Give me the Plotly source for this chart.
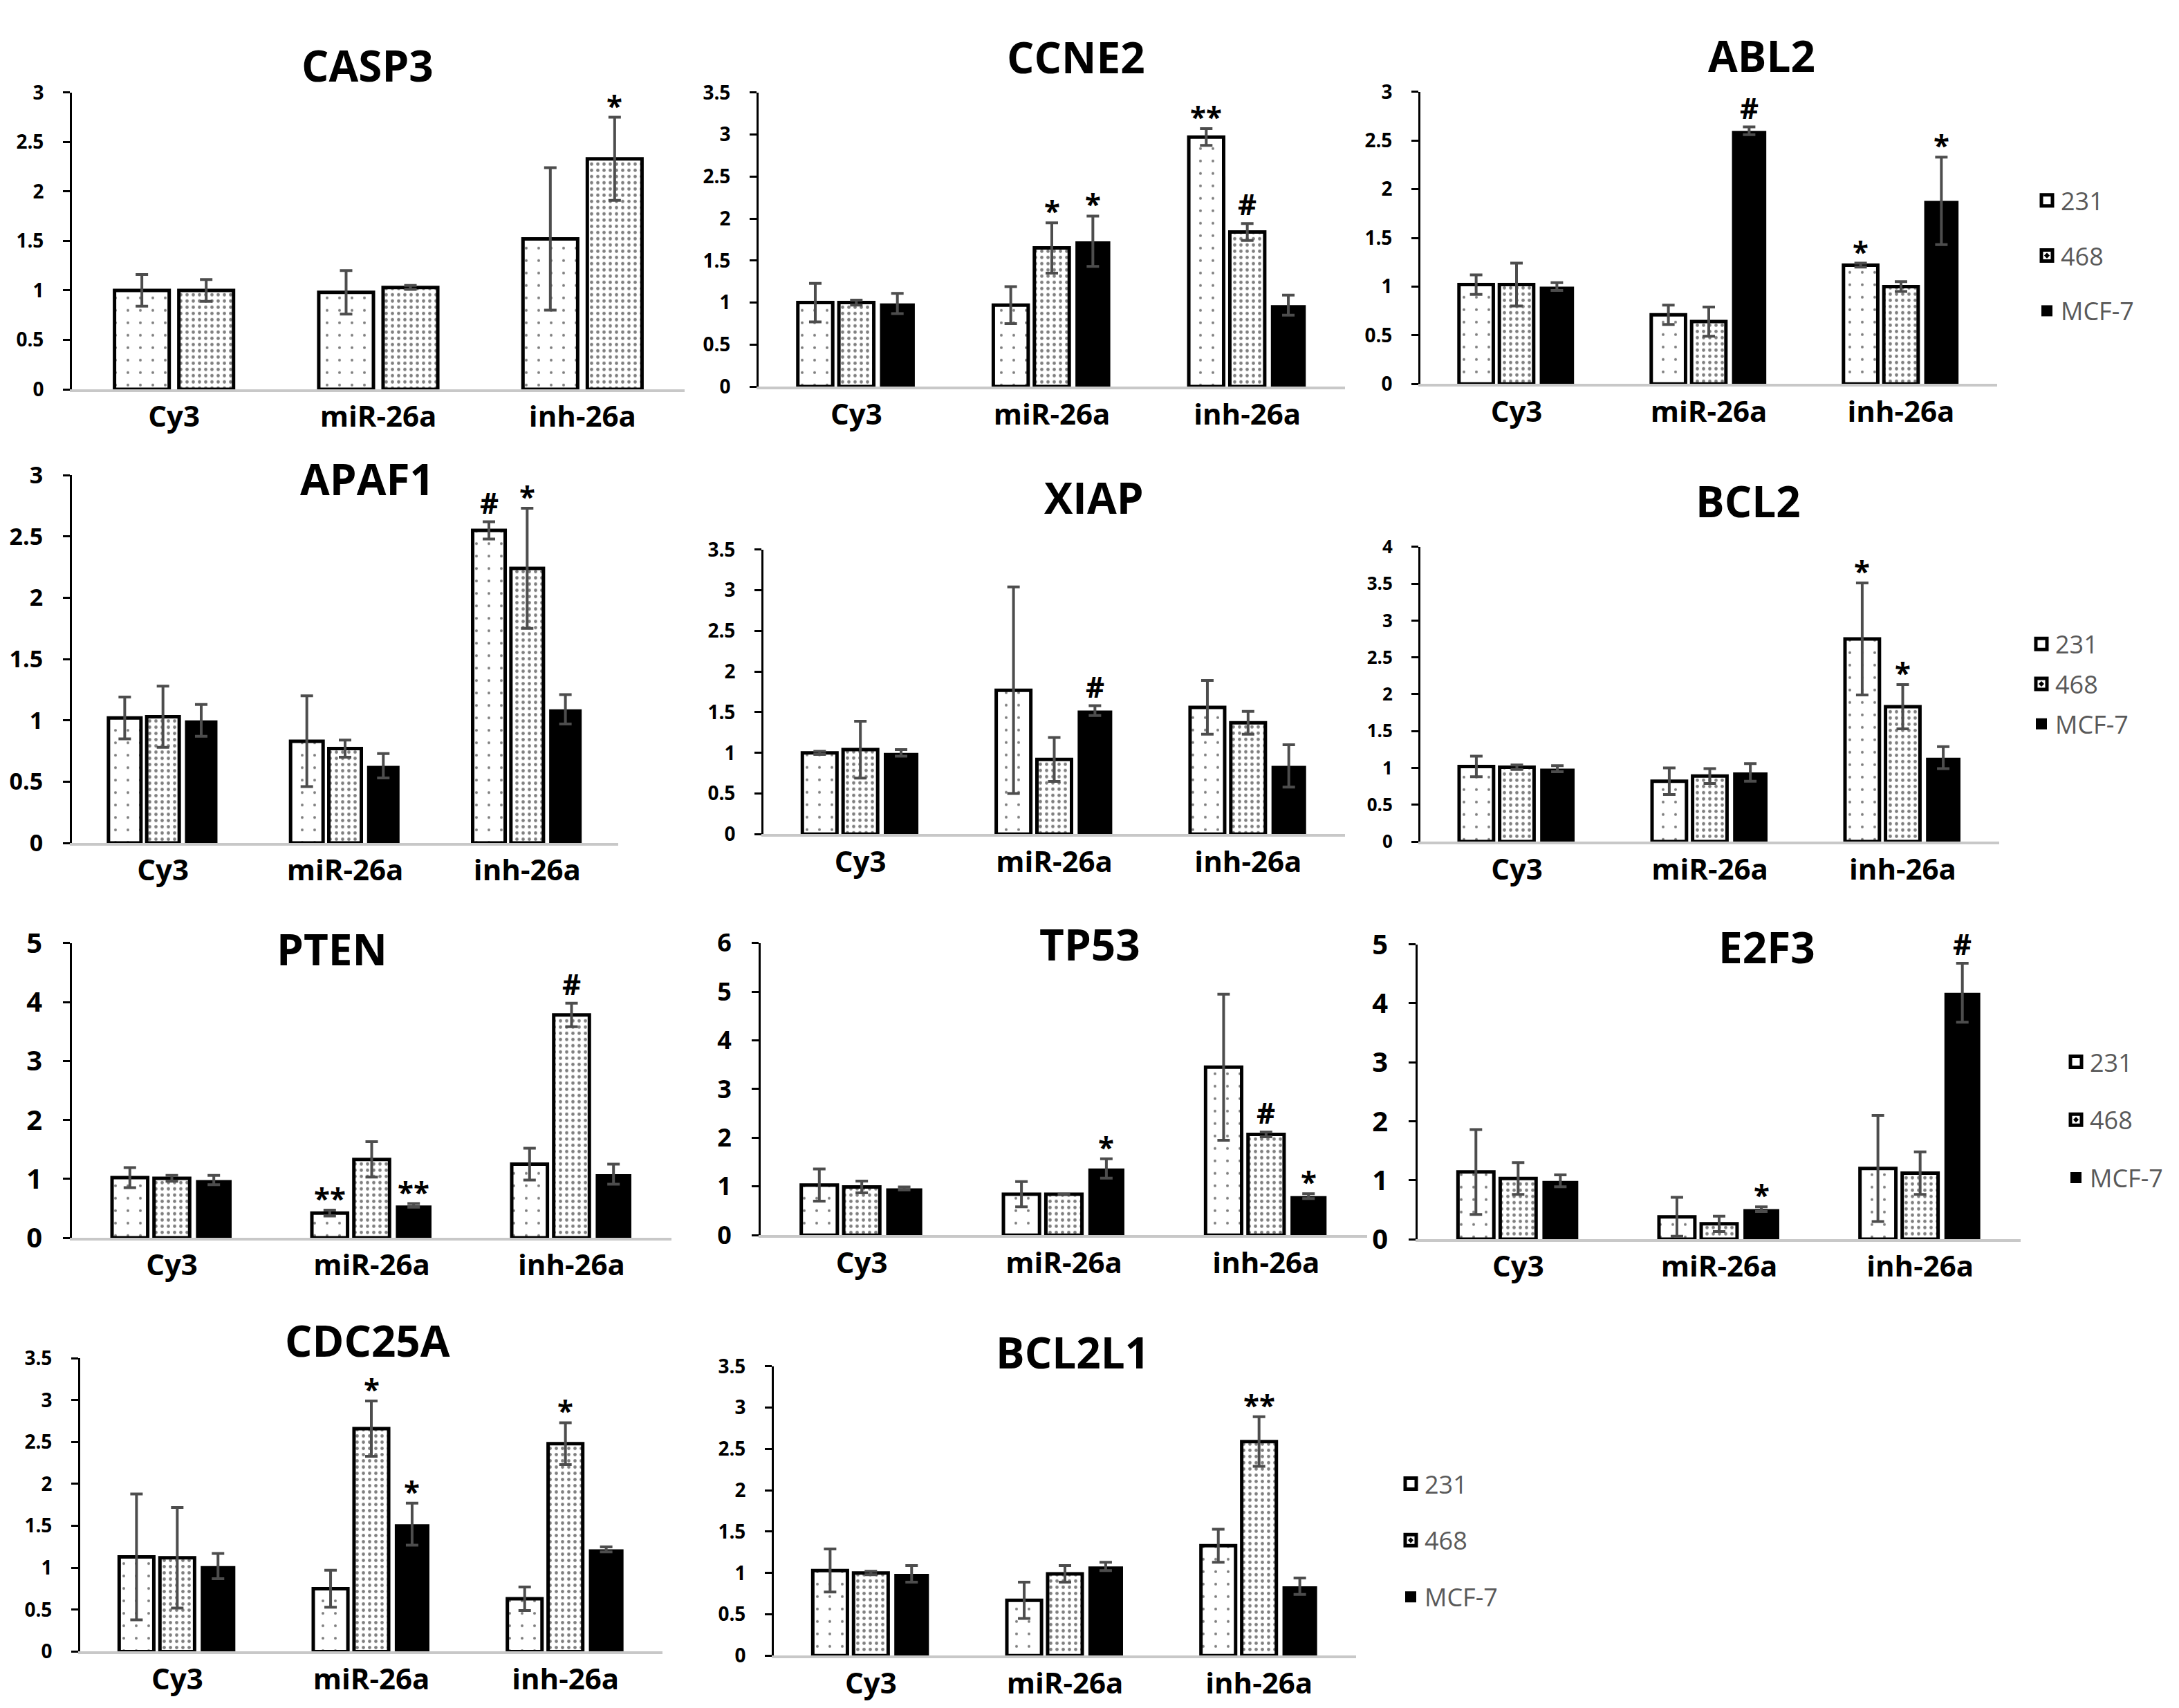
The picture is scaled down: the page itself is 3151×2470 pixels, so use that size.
import plotly.graph_objects as go

# Data (relative expression)
genes = ['CASP3', 'CCNE2', 'ABL2', 'APAF1', 'XIAP', 'BCL2',
         'PTEN', 'TP53', 'E2F3', 'CDC25A', 'BCL2L1']
categories = ['Cy3', 'miR-26a', 'inh-26a']
series = ['231', '468', 'MCF-7']

mean_231 = [[1.00, 0.98, 1.52], [1.00, 0.97, 2.97], [1.02, 0.71, 1.22],
            [1.02, 0.83, 2.55], [1.00, 1.77, 1.56], [1.02, 0.82, 2.75],
            [1.02, 0.42, 1.25], [1.03, 0.84, 3.45], [1.14, 0.38, 1.20],
            [1.13, 0.75, 0.63], [1.03, 0.67, 1.33]]
err_231 = [[0.16, 0.22, 0.72], [0.23, 0.22, 0.10], [0.10, 0.10, 0.02],
           [0.17, 0.37, 0.07], [0.02, 1.27, 0.33], [0.14, 0.18, 0.76],
           [0.17, 0.05, 0.27], [0.33, 0.26, 1.50], [0.72, 0.33, 0.90],
           [0.75, 0.22, 0.14], [0.26, 0.22, 0.20]]
mean_468 = [[1.00, 1.03, 2.33], [1.00, 1.65, 1.84], [1.02, 0.64, 1.00],
            [1.03, 0.77, 2.24], [1.04, 0.92, 1.37], [1.01, 0.89, 1.83],
            [1.01, 1.33, 3.78], [0.99, 0.84, 2.07], [1.03, 0.26, 1.12],
            [1.12, 2.66, 2.48], [1.00, 0.99, 2.59]]
err_468 = [[0.11, 0.02, 0.42], [0.03, 0.30, 0.10], [0.22, 0.15, 0.05],
           [0.25, 0.07, 0.49], [0.35, 0.27, 0.14], [0.03, 0.10, 0.30],
           [0.05, 0.30, 0.20], [0.12, 0.00, 0.05], [0.27, 0.13, 0.36],
           [0.60, 0.33, 0.25], [0.02, 0.10, 0.30]]
mean_mcf7 = [None, [0.99, 1.73, 0.97], [1.00, 2.60, 1.88],
             [1.00, 0.63, 1.09], [1.00, 1.52, 0.84], [0.99, 0.94, 1.14],
             [0.98, 0.55, 1.08], [0.96, 1.37, 0.80], [0.99, 0.51, 4.18],
             [1.02, 1.52, 1.22], [0.99, 1.08, 0.84]]
err_mcf7 = [None, [0.12, 0.30, 0.12], [0.04, 0.04, 0.45],
            [0.13, 0.10, 0.12], [0.04, 0.06, 0.26], [0.04, 0.12, 0.15],
            [0.08, 0.03, 0.17], [0.03, 0.20, 0.05], [0.10, 0.04, 0.50],
            [0.15, 0.25, 0.03], [0.10, 0.05, 0.10]]

y_max = [3, 3.5, 3, 3, 3.5, 4, 5, 6, 5, 3.5, 3.5]
y_step = [0.5, 0.5, 0.5, 0.5, 0.5, 0.5, 1, 1, 1, 0.5, 0.5]

# significance marks: (gene, category, series, symbol)
marks = [
    ('CASP3', 'inh-26a', '468', '*'),
    ('CCNE2', 'miR-26a', '468', '*'), ('CCNE2', 'miR-26a', 'MCF-7', '*'),
    ('CCNE2', 'inh-26a', '231', '**'), ('CCNE2', 'inh-26a', '468', '#'),
    ('ABL2', 'miR-26a', 'MCF-7', '#'), ('ABL2', 'inh-26a', '231', '*'),
    ('ABL2', 'inh-26a', 'MCF-7', '*'),
    ('APAF1', 'inh-26a', '231', '#'), ('APAF1', 'inh-26a', '468', '*'),
    ('XIAP', 'miR-26a', 'MCF-7', '#'),
    ('BCL2', 'inh-26a', '231', '*'), ('BCL2', 'inh-26a', '468', '*'),
    ('PTEN', 'miR-26a', '231', '**'), ('PTEN', 'miR-26a', 'MCF-7', '**'),
    ('PTEN', 'inh-26a', '468', '#'),
    ('TP53', 'miR-26a', 'MCF-7', '*'), ('TP53', 'inh-26a', '468', '#'),
    ('TP53', 'inh-26a', 'MCF-7', '*'),
    ('E2F3', 'miR-26a', 'MCF-7', '*'), ('E2F3', 'inh-26a', 'MCF-7', '#'),
    ('CDC25A', 'miR-26a', '468', '*'), ('CDC25A', 'miR-26a', 'MCF-7', '*'),
    ('CDC25A', 'inh-26a', '468', '*'),
    ('BCL2L1', 'inh-26a', '468', '**'),
]

# ---- layout geometry (pixels in a 3151 x 2470 page) ----
W, H = 3151, 2470
BARGAP = 0.37
# x0, x1, y_top, y_zero
panels = [
    (96, 982, 99, 538), (1089, 1937, 99, 534), (2046, 2880, 98, 530),
    (96, 886, 665, 1209), (1096, 1937, 775, 1196), (2046, 2883, 771, 1207),
    (96, 963, 1357, 1793), (1092, 1969, 1357, 1789), (2042, 2914, 1359, 1795),
    (108, 950, 1971, 2405), (1111, 1953, 1983, 2411),
]
title_pos = [(523, 58), (1548, 46), (2539, 44), (523, 670), (1574, 698),
             (2520, 703), (472, 1365), (1568, 1358), (2547, 1362),
             (523, 1944), (1543, 1962)]
tick_size = [28, 28, 28, 34, 28, 26, 40, 36, 40, 28, 28]
legend_of = {'ABL2': ('legend', 2932, 228, 30),
             'BCL2': ('legend2', 2924, 884, 8),
             'E2F3': ('legend3', 2974, 1502, 34),
             'BCL2L1': ('legend4', 2012, 2126, 32)}

FONT = 'Open Sans'
bar_styles = {
    '231': dict(color='white', line=dict(color='black', width=5),
                pattern=dict(shape='.', fgcolor='black', bgcolor='white',
                             size=18, solidity=0.04)),
    '468': dict(color='white', line=dict(color='black', width=5),
                pattern=dict(shape='.', fgcolor='black', bgcolor='white',
                             size=9, solidity=0.22)),
    'MCF-7': dict(color='black', line=dict(color='black', width=0)),
}
legend_symbols = {
    '231': dict(symbol='square-open', size=30, color='black',
                line=dict(width=5, color='black')),
    '468': dict(symbol='square-open-dot', size=30, color='black',
                line=dict(width=5, color='black')),
    'MCF-7': dict(symbol='square', size=30, color='black',
                  line=dict(width=0)),
}

fig = go.Figure()
layout_axes = {}
annotations = []

for k, gene in enumerate(genes):
    idx = k + 1
    xa = 'x' if idx == 1 else f'x{idx}'
    ya = 'y' if idx == 1 else f'y{idx}'
    x0, x1, yt, yz = panels[k]

    data = [(series[0], mean_231[k], err_231[k]),
            (series[1], mean_468[k], err_468[k]),
            (series[2], mean_mcf7[k], err_mcf7[k])]
    data = [d for d in data if d[1] is not None]

    for name, vals, errs in data:
        fig.add_trace(go.Bar(
            x=categories, y=vals, name=name,
            xaxis=xa, yaxis=ya,
            marker=bar_styles[name],
            error_y=dict(type='data', array=errs, color='#4d4d4d',
                         thickness=4, width=9),
            showlegend=False,
        ))

    # legend entries (marker-only, bigger boxes like the original key)
    leg = legend_of.get(gene)
    if leg:
        for name in series:
            fig.add_trace(go.Scatter(
                x=[None], y=[None], mode='markers', name=name,
                xaxis=xa, yaxis=ya, marker=legend_symbols[name],
                legend=leg[0], legendgroup=f'{gene}-{name}',
                showlegend=True,
            ))

    layout_axes['xaxis' if idx == 1 else f'xaxis{idx}'] = dict(
        domain=[x0 / W, x1 / W], anchor=ya, type='category',
        showline=True, linecolor='#c8c8c8', linewidth=4,
        ticks='', showgrid=False, zeroline=False,
        tickfont=dict(family=FONT, size=42, color='black', weight='bold'),
    )
    layout_axes['yaxis' if idx == 1 else f'yaxis{idx}'] = dict(
        domain=[1 - yz / H, 1 - yt / H], anchor=xa,
        range=[0, y_max[k]], dtick=y_step[k], tick0=0,
        showline=True, linecolor='black', linewidth=3,
        ticks='outside', ticklen=10, tickwidth=3, tickcolor='black',
        showgrid=False, zeroline=False, ticklabelstandoff=22,
        tickfont=dict(family=FONT, size=tick_size[k], color='black',
                      weight='bold'),
    )

    tx, ty = title_pos[k]
    annotations.append(dict(
        text=gene, x=tx / W, y=1 - ty / H, xref='paper', yref='paper',
        xanchor='center', yanchor='middle', showarrow=False,
        font=dict(family=FONT, size=62, color='black', weight='bold'),
    ))

    # significance symbols above the error bars
    names = [d[0] for d in data]
    cat_px = (x1 - x0) / 3
    slot = cat_px * (1 - BARGAP) / len(names)
    for g, cat, s, sym in marks:
        if g != gene:
            continue
        j = names.index(s)
        c = categories.index(cat)
        top = data[j][1][c] + data[j][2][c]
        annotations.append(dict(
            text=sym, x=cat, y=top, xref=xa, yref=ya,
            xshift=(j - (len(names) - 1) / 2) * slot,
            yshift=-12 if '*' in sym else -2,
            xanchor='center', yanchor='bottom', showarrow=False,
            font=dict(family=FONT, size=42, color='black', weight='bold'),
        ))

legends = {}
for gene, (lname, lx, ly, gap) in legend_of.items():
    legends[lname] = dict(
        x=lx / W, y=1 - ly / H, xanchor='left', yanchor='top',
        bgcolor='rgba(0,0,0,0)', tracegroupgap=gap,
        font=dict(family=FONT, size=36, color='#595959'),
        itemwidth=30,
    )

fig.update_layout(
    width=W, height=H, autosize=False,
    margin=dict(l=0, r=0, t=0, b=0),
    paper_bgcolor='white', plot_bgcolor='white',
    barmode='group', bargap=BARGAP, bargroupgap=0.15,
    annotations=annotations,
    **layout_axes, **legends,
)

fig.write_html('out.html')
